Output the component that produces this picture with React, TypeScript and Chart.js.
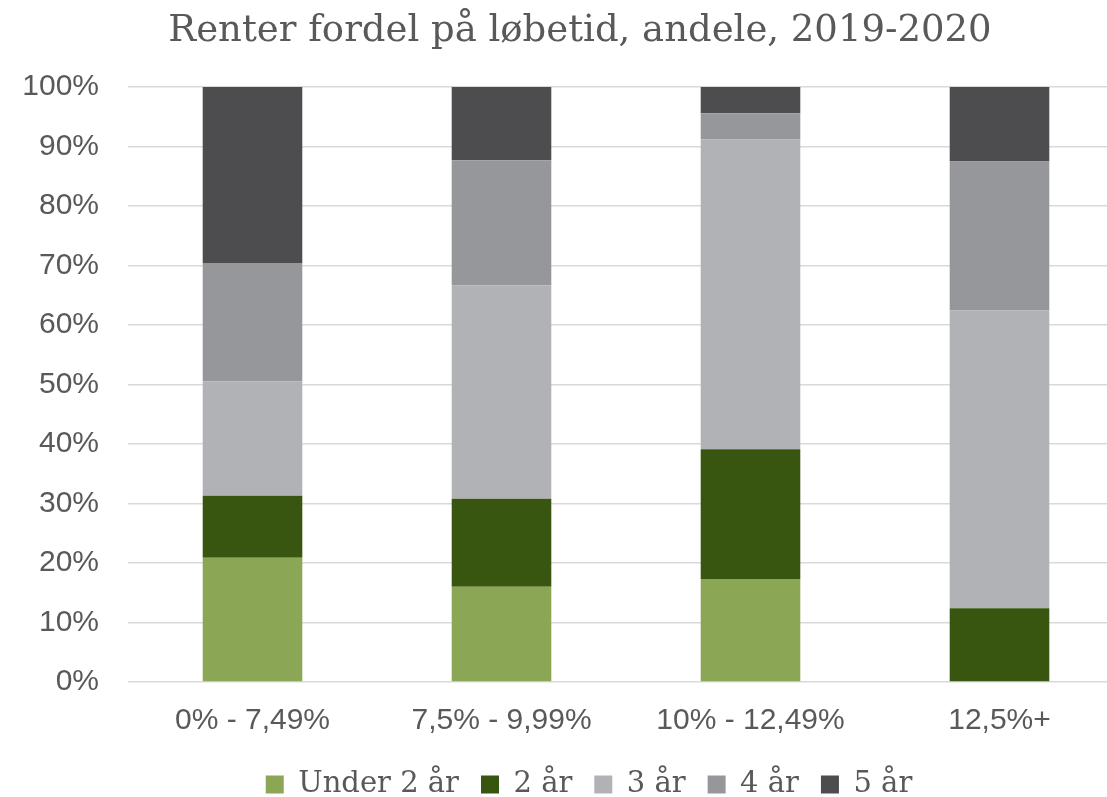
import React, { useEffect, useRef } from "react";
import { Chart, registerables } from "chart.js";

Chart.register(...registerables);

const categories = ["0% - 7,49%", "7,5% - 9,99%", "10% - 12,49%", "12,5%+"];
const under2 = [20.9, 16.0, 17.3, 0];
const aar2 = [10.4, 14.8, 21.8, 12.4];
const aar3 = [19.2, 35.9, 52.1, 50.1];
const aar4 = [19.9, 21.0, 4.4, 25.0];
const aar5 = [29.6, 12.3, 4.4, 12.5];
const seriesNames = ["Under 2 år", "2 år", "3 år", "4 år", "5 år"];
const yTicks = [0, 10, 20, 30, 40, 50, 60, 70, 80, 90, 100];
const title = "Renter fordel på løbetid, andele, 2019-2020";

const colors = ["#8BA756", "#38560F", "#B1B2B6", "#96979B", "#4D4D4F"];
const textColor = "#595959";

// Title and legend in the reference are centred a little right of the canvas centre.
const shiftBoxes = {
  id: "shiftBoxes",
  afterLayout(chart: any) {
    if (chart.titleBlock) {
      chart.titleBlock.left += 18;
      chart.titleBlock.right += 18;
    }
    if (chart.legend) {
      chart.legend.left += 27;
      chart.legend.right += 27;
    }
  },
};

export default function App() {
  const ref = useRef<HTMLCanvasElement | null>(null);
  useEffect(() => {
    if (!ref.current) return;
    const values = [under2, aar2, aar3, aar4, aar5];
    const chart = new Chart(ref.current, {
      type: "bar",
      data: {
        labels: categories,
        datasets: values.map((v, i) => ({
          label: seriesNames[i],
          data: v,
          backgroundColor: colors[i],
          borderWidth: 0,
          categoryPercentage: 1,
          barPercentage: 0.4,
        })),
      },
      plugins: [shiftBoxes],
      options: {
        animation: false,
        responsive: false,
        maintainAspectRatio: false,
        layout: { padding: 0 },
        plugins: {
          title: {
            display: true,
            text: title,
            color: textColor,
            font: { family: "'DejaVu Serif', serif", size: 37, weight: "normal", lineHeight: 1.2 },
            padding: { top: 9, bottom: 33.6 },
          },
          legend: {
            position: "bottom",
            labels: {
              boxWidth: 18,
              boxHeight: 18,
              padding: 22,
              color: textColor,
              font: { family: "'DejaVu Serif', serif", size: 29 },
            },
          },
          tooltip: { enabled: false },
        },
        scales: {
          x: {
            stacked: true,
            afterFit: (s: any) => { s.height = 66; },
            grid: { display: false, drawTicks: false },
            border: { display: false },
            ticks: {
              color: textColor,
              padding: 21,
              font: { family: "'Liberation Sans', Arial, sans-serif", size: 30 },
            },
          },
          y: {
            stacked: true,
            min: 0,
            max: 100,
            afterFit: (s: any) => { s.width = 128; },
            afterBuildTicks: (s: any) => { s.ticks = yTicks.map((v) => ({ value: v })); },
            grid: { color: "#D9D9D9", lineWidth: 1.5, drawTicks: false },
            border: { display: false },
            ticks: {
              color: textColor,
              padding: 29,
              font: { family: "'Liberation Sans', Arial, sans-serif", size: 30 },
              callback: (v: any) => v + "%",
            },
          },
        },
      },
    });
    return () => chart.destroy();
  }, []);
  return (
    <div style={{ position: "fixed", left: 0, top: 0, width: 1107, height: 797, overflow: "hidden", background: "#fff" }}>
      <canvas ref={ref} width={1124} height={809} style={{ display: "block" }} />
    </div>
  );
}
